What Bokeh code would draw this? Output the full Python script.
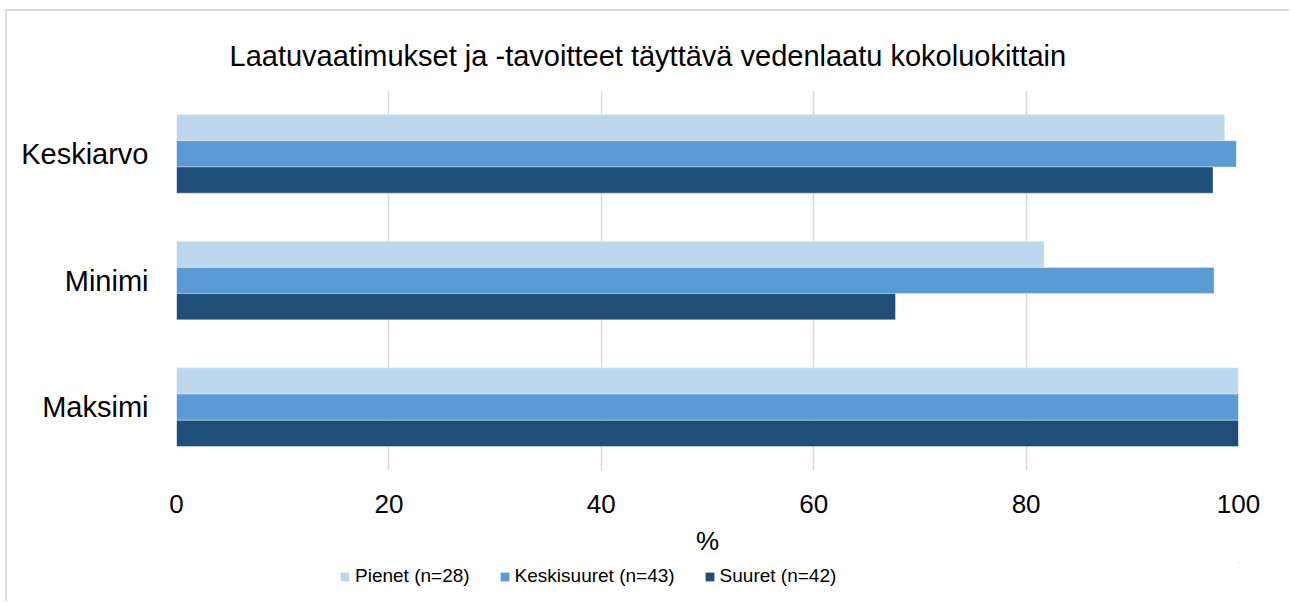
from bokeh.plotting import figure
from bokeh.layouts import column
from bokeh.models import ColumnDataSource, FactorRange, Range1d, FixedTicker, Legend, LegendItem
from bokeh.transform import dodge
from bokeh.embed import file_html
from bokeh.resources import INLINE

categories = ["Keskiarvo", "Minimi", "Maksimi"]
series_names = ["Pienet (n=28)", "Keskisuuret (n=43)", "Suuret (n=42)"]
pienet = [98.7, 81.7, 100.0]
keskisuuret = [99.8, 97.7, 100.0]
suuret = [97.6, 67.7, 100.0]
x_ticks = [0, 20, 40, 60, 80, 100]
colors = ["#BDD7EE", "#5B9BD5", "#1F4E79"]

src = ColumnDataSource(dict(cat=categories, s0=pienet, s1=keskisuuret, s2=suuret))
keys = ["s0", "s1", "s2"]

FONT = "Liberation Sans"
p = figure(width=1282, height=551, output_backend="svg", toolbar_location=None,
           y_range=FactorRange(factors=categories[::-1], range_padding=0),
           x_range=Range1d(0, 100),
           min_border_left=169, min_border_right=51, min_border_top=79, min_border_bottom=92)

p.title.text = "Laatuvaatimukset ja -tavoitteet täyttävä vedenlaatu kokoluokittain"
p.title.text_font = FONT
p.title.text_font_size = "29px"
p.title.text_font_style = "normal"
p.title.text_color = "#000000"
p.title.align = "left"
p.title.offset = 53
p.title.standoff = 37

bw = 0.207
offsets = [bw, 0.0, -bw]
for i, key in enumerate(keys):
    p.hbar(y=dodge("cat", offsets[i], range=p.y_range), right=key, left=0, height=bw,
           source=src, fill_color=colors[i], line_color="white", line_width=0.6, line_alpha=0.6)

p.xaxis.ticker = FixedTicker(ticks=x_ticks)
p.xaxis.axis_label = "%"
p.xaxis.axis_label_text_font = FONT
p.xaxis.axis_label_text_font_size = "26px"
p.xaxis.axis_label_text_font_style = "normal"
p.xaxis.axis_label_text_color = "#000000"
p.xaxis.axis_label_standoff = 10
p.xaxis.major_label_text_font = FONT
p.xaxis.major_label_text_font_size = "26px"
p.xaxis.major_label_text_color = "#000000"
p.xaxis.major_label_standoff = 18
p.xaxis.axis_line_color = None
p.xaxis.major_tick_line_color = None
p.xaxis.minor_tick_line_color = None

p.yaxis.major_label_text_font = FONT
p.yaxis.major_label_text_font_size = "29px"
p.yaxis.major_label_text_color = "#000000"
p.yaxis.major_label_standoff = 22
p.yaxis.axis_line_color = None
p.yaxis.major_tick_line_color = None
p.yaxis.minor_tick_line_color = None

p.xgrid.grid_line_color = "#d9d9d9"
p.xgrid.grid_line_width = 1.5
p.ygrid.grid_line_color = None
p.outline_line_color = None

# legend strip (legend renderers use the same data, which lies outside this strip's range)
lf = figure(width=1282, height=39, output_backend="svg", toolbar_location=None,
            x_range=Range1d(0, 1), y_range=Range1d(0, 1),
            min_border_left=0, min_border_right=0, min_border_top=0, min_border_bottom=0)
lf.xaxis.visible = False
lf.yaxis.visible = False
lf.grid.grid_line_color = None
lf.outline_line_color = None
items = []
for i, key in enumerate(keys):
    r = lf.hbar(y=key, right=key, left=key, height=0.5, source=src,
                fill_color=colors[i], line_color=None)
    items.append(LegendItem(label=series_names[i], renderers=[r]))
legend = Legend(items=items, orientation="horizontal", location=(163, 14))
legend.label_text_font = FONT
legend.label_text_font_size = "19px"
legend.label_text_color = "#000000"
legend.glyph_width = 11
legend.glyph_height = 11
legend.spacing = 29
legend.label_standoff = 5
legend.border_line_color = None
legend.background_fill_alpha = 0
legend.padding = 2
legend.margin = 0
lf.add_layout(legend, "center")

layout = column(p, lf, spacing=0)
layout.styles = {"border-left": "2px solid #dcdcdc", "border-top": "2px solid #dcdcdc",
                 "margin-left": "5px", "margin-top": "9px"}

open("out.html", "w").write(file_html(layout, INLINE))
